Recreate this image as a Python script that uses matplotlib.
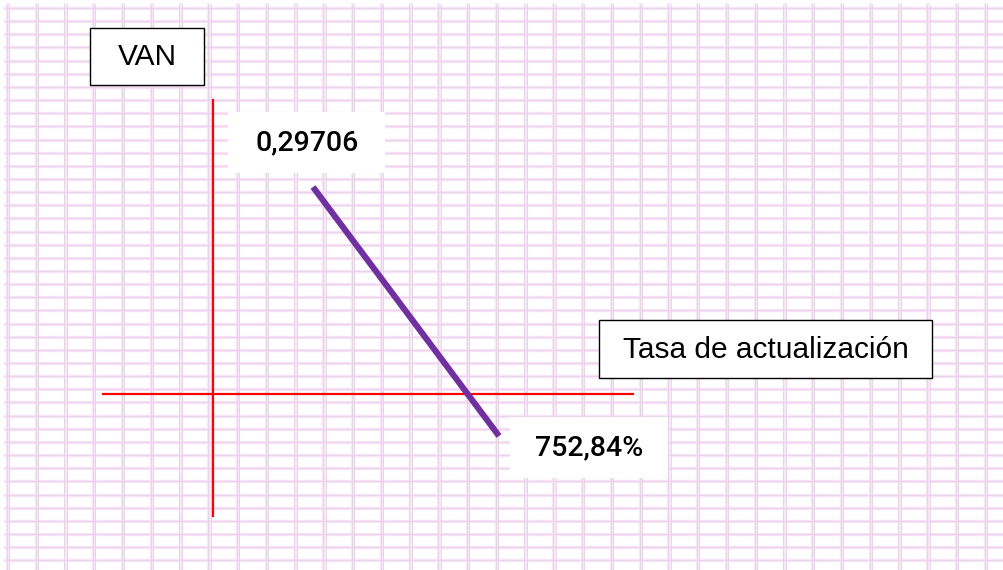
import numpy as np
import matplotlib.pyplot as plt
from matplotlib.patches import Rectangle

# values
van_label = "0,29706"
tir_label = "752,84%"
y_title = "VAN"
x_title = "Tasa de actualización"

# the purple VAN line (tasa in %, VAN)
tasa = [296.4, 847.7]
van = [0.1803, -0.0366]
# extents of the red axes
eje_x = [-326.0, 1245.0]
eje_y = [-0.106, 0.256]

W, H = 1004, 570
fig = plt.figure(figsize=(W / 100, H / 100), dpi=100)

# background: pink squared paper, in pixel units
bg = fig.add_axes([0, 0, 1, 1])
bg.set_xlim(0, W)
bg.set_ylim(H, 0)
bg.axis("off")
for xv in np.arange(8, W, 28.76):
    bg.plot([xv, xv], [5, H], color="#f9e6f9", lw=3.0, zorder=1)
    bg.plot([xv - 1.2, xv - 1.2], [5, H], color="#ddd0dd", lw=0.5, zorder=2)
    bg.plot([xv + 1.2, xv + 1.2], [5, H], color="#ddd0dd", lw=0.5, zorder=2)
for yv in np.arange(8, H, 13.15):
    bg.plot([5, W], [yv, yv], color="#f9e3f9", lw=2.4, zorder=1)
    bg.plot([5, W], [yv, yv], color="#e3d3e3", lw=0.5, zorder=2)

# data axes: origin of the sketch at pixel (213, 394)
px_x = 254 / 752.84
px_y = 1148.0
ax = fig.add_axes([0, 0, 1, 1])
ax.patch.set_alpha(0)
ax.set_xlim(-213 / px_x, (W - 213) / px_x)
ax.set_ylim(-(H - 394) / px_y, 394 / px_y)
ax.axis("off")

ax.plot(eje_x, [0, 0], color="#ff0000", lw=1.6, zorder=3)
ax.plot([0, 0], eje_y, color="#ff0000", lw=1.6, zorder=3)
ax.plot(tasa, van, color="#7030a0", lw=4.4, solid_capstyle="butt", zorder=4)

# label boxes (pixel units)
def box(x0, y0, x1, y1, edge):
    bg.add_patch(Rectangle((x0, y0), x1 - x0, y1 - y0, facecolor="white",
                           edgecolor="black" if edge else "none", lw=1.0, zorder=5))

box(90, 28, 204, 85, True)
bg.text(147, 57, y_title, ha="center", va="center", fontsize=21.5,
        family="Liberation Sans", zorder=6)
box(599, 320, 932, 378, True)
bg.text(766, 350, x_title, ha="center", va="center", fontsize=21.5,
        family="Liberation Sans", zorder=6)
box(228, 112, 385, 173, False)
bg.text(307, 143, van_label, ha="center", va="center", fontsize=20.5,
        family="Roboto", weight="medium", zorder=6)
box(510, 417, 668, 478, False)
bg.text(589, 448, tir_label, ha="center", va="center", fontsize=20.5,
        family="Roboto", weight="medium", zorder=6)

fig.savefig("out.png", dpi=100, facecolor="white")
